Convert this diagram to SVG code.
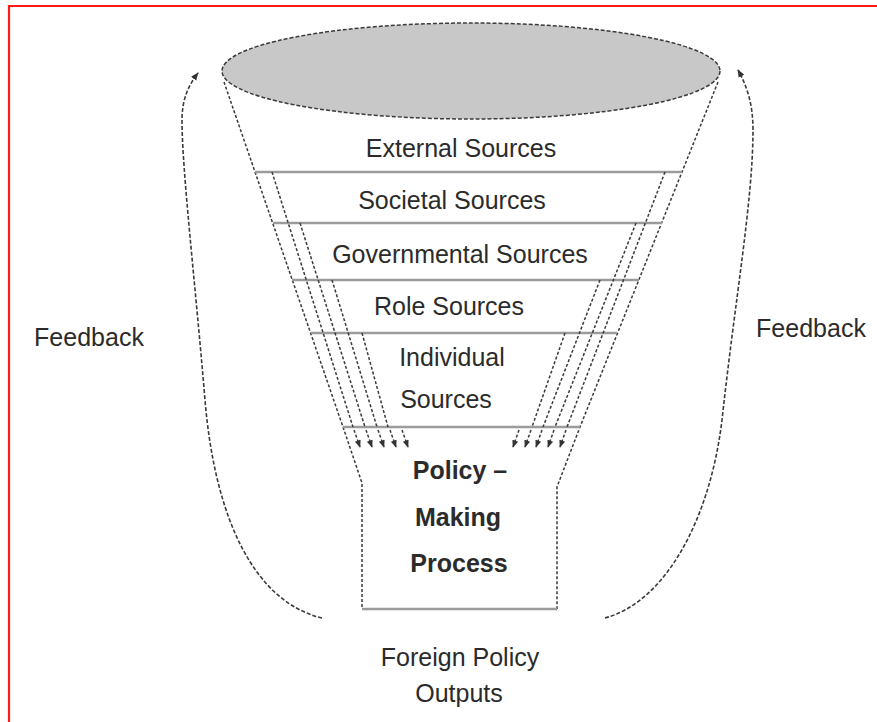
<svg xmlns="http://www.w3.org/2000/svg" width="877" height="722" viewBox="0 0 877 722">
<defs>
<style>
.t{font-family:"Liberation Sans",Arial,sans-serif;font-size:25px;fill:#2b2b2b;text-anchor:middle}
.b{font-weight:bold}
.d{fill:none;stroke:#3a3a3a;stroke-width:1.5;stroke-dasharray:3 2}
.sep{stroke:#9a9a9a;stroke-width:2.5;fill:none}
.fb{fill:none;stroke:#3a3a3a;stroke-width:1.6;stroke-dasharray:4 2}
</style>
<marker id="ah" viewBox="0 0 10 10" refX="9" refY="5" markerWidth="5" markerHeight="5" orient="auto">
<path d="M0,1 L10,5 L0,9 Z" fill="#333"/>
</marker>
</defs>
<rect width="877" height="722" fill="#fff"/>
<path d="M9,722 L9,6 L877,6" fill="none" stroke="#ff1a1a" stroke-width="2.2"/>

<g id="funnel">
<path class="d" d="M224,82 L343,427 L362,483 L362,609"/>
<path class="d" d="M718,82 L580,427 L557,487 L557,609"/>
<line class="sep" x1="362" y1="609" x2="557" y2="609"/>
<ellipse id="mouth" cx="471" cy="71" rx="249" ry="48" fill="#c8c8c8" stroke="#3a3a3a" stroke-width="1.5" stroke-dasharray="4 2"/>
</g>

<g id="layer-external">
<text class="t" x="461" y="157">External Sources</text>
</g>
<g id="layer-societal">
<line class="sep" x1="255" y1="172" x2="682" y2="172"/>
<text class="t" x="452" y="209">Societal Sources</text>
</g>
<g id="layer-governmental">
<line class="sep" x1="273" y1="223" x2="662" y2="223"/>
<text class="t" x="460" y="263">Governmental Sources</text>
</g>
<g id="layer-role">
<line class="sep" x1="292" y1="280" x2="639" y2="280"/>
<text class="t" x="449" y="315">Role Sources</text>
</g>
<g id="layer-individual">
<line class="sep" x1="311" y1="333" x2="617" y2="333"/>
<text class="t" x="452" y="366">Individual</text>
<text class="t" x="446" y="408">Sources</text>
<line class="sep" x1="343" y1="427" x2="580" y2="427"/>
</g>
<g id="policy-making-process">
<text class="t b" x="460" y="479">Policy –</text>
<text class="t b" x="458" y="526">Making</text>
<text class="t b" x="459" y="572">Process</text>
</g>
<g id="outputs">
<text class="t" x="460" y="666">Foreign Policy</text>
<text class="t" x="459" y="702">Outputs</text>
</g>
<g id="feedback-left">
<text class="t" x="89" y="346">Feedback</text>
</g>
<g id="feedback-right">
<text class="t" x="811" y="337">Feedback</text>
</g>

<g id="connectors">
<path class="d" d="M272,172 L353,427"/>
<path class="d" d="M300,223 L365,427"/>
<path class="d" d="M332,280 L377,427"/>
<path class="d" d="M362,333 L388,427"/>
<path class="d" d="M665,172 L567,427"/>
<path class="d" d="M636,223 L555,427"/>
<path class="d" d="M600,280 L543,427"/>
<path class="d" d="M565,333 L532,427"/>
<g marker-end="url(#ah)">
<path class="d" d="M354,430 L360,447"/>
<path class="d" d="M366,430 L372,447"/>
<path class="d" d="M378,430 L384,447"/>
<path class="d" d="M390,430 L396,447"/>
<path class="d" d="M402,430 L408,447"/>
<path class="d" d="M519,430 L513,447"/>
<path class="d" d="M531,430 L525,447"/>
<path class="d" d="M542,430 L536,447"/>
<path class="d" d="M554,430 L548,447"/>
<path class="d" d="M566,430 L560,447"/>
<path class="fb" d="M322,618 C255,602 215,520 205,400 C195,280 182,170 182,120 C182,100 188,86 198,73"/>
<path class="fb" d="M605,618 C665,602 710,520 722,420 C735,300 753,200 753,130 C753,106 748,88 738,70"/>
</g>
</g>
</svg>
